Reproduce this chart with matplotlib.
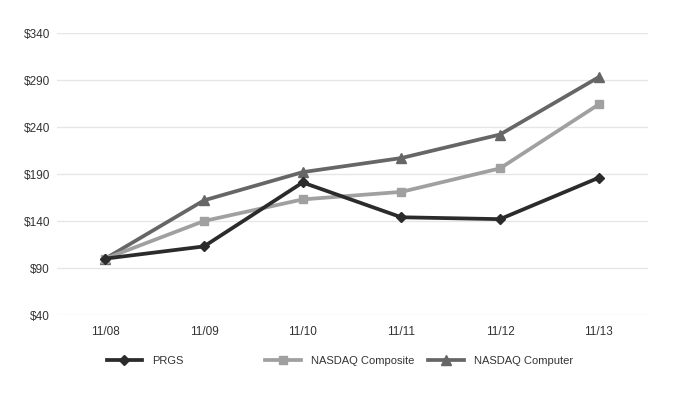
import matplotlib
matplotlib.use('Agg')
import matplotlib.pyplot as plt
from matplotlib.ticker import FuncFormatter

plt.rcParams['font.family'] = ['Liberation Sans', 'DejaVu Sans']

# Data
years = ['11/08', '11/09', '11/10', '11/11', '11/12', '11/13']
prgs = [100, 113, 181, 144, 142, 186]
nasdaq_composite = [100, 140, 163, 171, 196, 264]
nasdaq_computer = [100, 162, 192, 207, 232, 293]

fig = plt.figure(figsize=(6.81, 3.98), dpi=100)
ax = fig.add_axes([0.0837, 0.2085, 0.8678, 0.7085])

x = list(range(len(years)))
l1, = ax.plot(x, prgs, color='#2b2b2b', lw=2.7, marker='D', ms=5, zorder=4)
l2, = ax.plot(x, nasdaq_composite, color='#a0a0a0', lw=2.7, marker='s', ms=6, zorder=3)
l3, = ax.plot(x, nasdaq_computer, color='#666666', lw=2.7, marker='^', ms=6.5, zorder=2)

ax.set_xlim(-0.49, 5.5)
ax.set_ylim(40, 340)
ax.set_yticks(range(40, 341, 50))
ax.yaxis.set_major_formatter(FuncFormatter(lambda v, p: '$%d' % v))
ax.set_xticks(x)
ax.set_xticklabels(years)
ax.grid(axis='y', color='#e6e6e6', lw=1)
ax.set_axisbelow(True)
for s in ax.spines.values():
    s.set_visible(False)
ax.tick_params(length=0, labelsize=8.5, colors='#333333', pad=8)
ax.tick_params(axis='y', pad=5)

# legend entries placed separately, as in the original
entries = [(l1, 'PRGS', 0.15), (l2, 'NASDAQ Composite', 0.383), (l3, 'NASDAQ Computer', 0.622)]
for h, lab, xpos in entries:
    fig.legend([h], [lab], loc='center left', bbox_to_anchor=(xpos, 0.093),
               frameon=False, fontsize=8, handlelength=3.2, handletextpad=0.9,
               labelcolor='#333333', borderaxespad=0)

fig.savefig('out.png', dpi=100)
